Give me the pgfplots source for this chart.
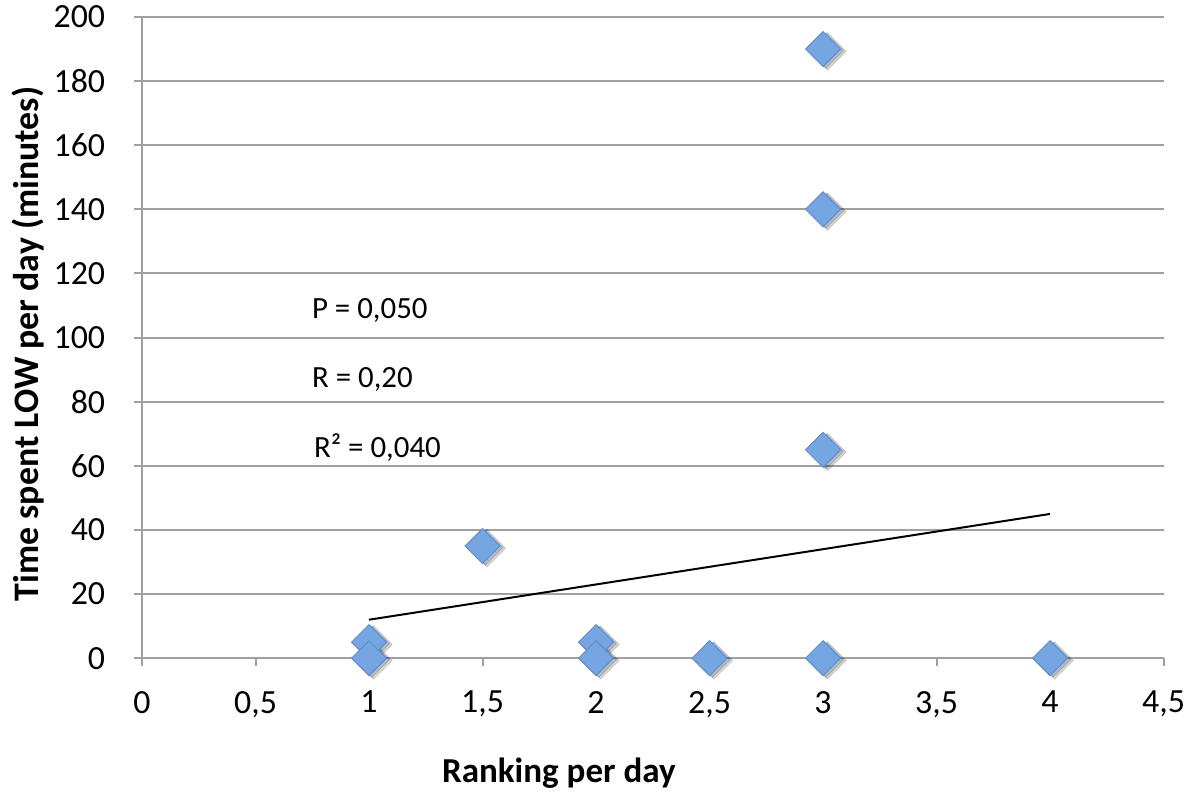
\documentclass[border=0pt]{standalone}
\usepackage{fontspec}
\setmainfont{Carlito}
\usepackage{pgfplots}
\pgfplotsset{compat=1.18}

\definecolor{gridgray}{RGB}{160,160,160}
\definecolor{markfill}{RGB}{118,166,226}
\definecolor{markedge}{RGB}{92,142,208}

\pgfplotstableread{
x y
1 5
1 0
1.5 35
2 5
2 0
2.5 0
3 190
3 140
3 65
3 0
4 0
}\lowdata

\begin{document}
\begin{tikzpicture}
\begin{axis}[
  scale only axis,
  width=513pt, height=322pt,
  xmin=0, xmax=4.5, ymin=0, ymax=200,
  xtick={0,0.5,...,4.5},
  ytick={0,20,...,200},
  axis x line=bottom, axis y line=left,
  axis line style={gridgray, line width=1pt, -},
  ymajorgrids,
  grid style={gridgray, line width=1pt},
  tick align=outside,
  major tick length=4pt,
  tick style={gridgray, line width=1pt},
  /pgf/number format/assume math mode=true,
  /pgf/number format/use comma,
  xticklabel style={font=\fontsize{17}{20}\selectfont, yshift=-9pt},
  yticklabel style={font=\fontsize{17}{20}\selectfont, xshift=-11pt},
  xlabel={\textbf{Ranking per day}},
  ylabel={\textbf{Time spent LOW per day (minutes)}},
  xlabel style={font=\fontsize{17.6}{20}\selectfont, at={(rel axis cs:0.408,0)}, anchor=center, yshift=-57.5pt},
  ylabel style={font=\fontsize{18}{21}\selectfont, at={(rel axis cs:0,0.49)}, anchor=center, yshift=57pt},
  clip=false,
]
% trend line
\addplot[black, line width=1pt] coordinates {(1,12) (4,45)};

% soft shadow under the markers
\addplot[only marks, mark=square*, mark size=6.6pt,
  mark options={rotate=45, fill=black, draw=none, opacity=0.15, xshift=0.8pt, yshift=-2.4pt}]
  table {\lowdata};
\addplot[only marks, mark=square*, mark size=6.2pt,
  mark options={rotate=45, fill=black, draw=none, opacity=0.15, xshift=0.5pt, yshift=-1.6pt}]
  table {\lowdata};

% observations
\addplot[only marks, mark=square*, mark size=6.2pt,
  mark options={rotate=45, fill=markfill, draw=markedge, line width=0.5pt}]
  table {\lowdata};

\node[anchor=west, font=\fontsize{15.5}{18}\selectfont] at (axis cs:0.718,108.5) {P = 0,050};
\node[anchor=west, font=\fontsize{15.5}{18}\selectfont] at (axis cs:0.718,87) {R = 0,20};
\node[anchor=west, font=\fontsize{15.5}{18}\selectfont] at (axis cs:0.727,65.6) {R² = 0,040};

\coordinate (bl) at (axis cs:-0.6256,-43.2);
\coordinate (tr) at (axis cs:4.665,205.3);
\end{axis}
\pgfresetboundingbox
\path[use as bounding box] (bl) rectangle (tr);
\end{tikzpicture}
\end{document}
